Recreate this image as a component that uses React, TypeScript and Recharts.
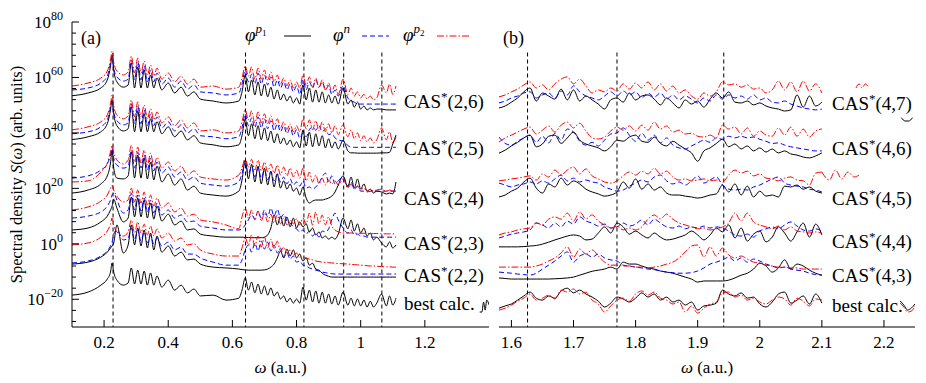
import React from "react";
import { LineChart, Line, XAxis, YAxis, ReferenceLine } from "recharts";

const FONT = '"Liberation Serif", "Times New Roman", Times, serif';
const BLACK = "#000000";
const BLUE = "#0000ff";
const RED = "#ff0000";

// ---- panel (a): omega grid (a.u.) and log10 S(omega) for each curve ----
const LEFT_W = [
  0.10, 0.15, 0.19, 0.21, 0.22, 0.225, 0.23, 0.24, 0.26, 0.275,
  0.285, 0.295, 0.305, 0.315, 0.325, 0.335, 0.345, 0.355, 0.365, 0.38,
  0.40, 0.42, 0.44, 0.46, 0.48, 0.50, 0.54, 0.58, 0.62, 0.63,
  0.64, 0.65, 0.66, 0.67, 0.68, 0.69, 0.70, 0.71, 0.72, 0.73,
  0.74, 0.75, 0.76, 0.77, 0.78, 0.79, 0.80, 0.81, 0.82, 0.83,
  0.84, 0.85, 0.86, 0.87, 0.88, 0.89, 0.90, 0.91, 0.92, 0.93,
  0.945, 0.96, 0.97, 0.98, 0.99, 1.00, 1.01, 1.02, 1.03, 1.04,
  1.05, 1.065, 1.08, 1.09, 1.10, 1.11,
];

const A26_P1 = [
  53.4, 54.4, 56.2, 59.1, 64.1, 68.1, 62.7, 58.4, 56.5, 57.3,
  65.2, 56.2, 63.8, 56.2, 62.7, 56.2, 60.9, 56.2, 59.8, 55.5,
  58.0, 54.4, 56.5, 53.3, 54.8, 52.2, 51.5, 50.8, 51.5, 54.8,
  60.9, 54.8, 59.1, 53.7, 58.4, 53.3, 57.6, 53.0, 56.5, 52.2,
  55.5, 51.9, 54.0, 51.5, 53.3, 50.8, 52.6, 50.4, 57.3, 51.9,
  56.2, 51.1, 55.5, 51.1, 54.8, 50.8, 53.7, 50.8, 53.3, 50.4,
  56.2, 50.4, 51.9, 49.3, 51.1, 48.6, 49.7, 48.3, 49.0, 48.3,
  48.6, 48.6, 48.3, 48.3, 48.3, 48.3,
];
const A26_N = [
  55.5, 56.2, 58.0, 60.5, 64.9, 67.4, 63.4, 60.2, 58.7, 59.4,
  66.3, 59.1, 65.6, 59.1, 64.1, 58.4, 62.7, 58.4, 61.6, 57.6,
  59.8, 56.5, 58.7, 55.8, 57.3, 54.8, 54.4, 53.7, 54.4, 57.6,
  62.7, 58.4, 61.2, 57.6, 61.6, 57.6, 60.9, 57.3, 60.2, 56.5,
  59.1, 56.2, 58.4, 55.5, 57.6, 54.8, 57.0, 53.9, 59.1, 55.5,
  58.4, 56.2, 59.1, 56.5, 58.4, 55.5, 57.0, 53.9, 55.5, 53.3,
  57.0, 52.6, 51.5, 51.1, 50.4, 50.4, 50.4, 50.4, 50.4, 50.4,
  50.4, 50.4, 50.4, 50.4, 50.4, 50.4,
];
const A26_P2 = [
  56.9, 58.0, 59.8, 62.3, 66.3, 69.5, 65.6, 62.3, 60.9, 62.0,
  67.7, 61.6, 67.0, 61.6, 65.9, 60.9, 64.5, 60.5, 63.4, 59.4,
  61.6, 58.4, 60.5, 57.6, 59.4, 56.5, 56.9, 55.8, 56.5, 59.8,
  64.1, 60.5, 63.8, 59.4, 63.4, 59.4, 62.7, 59.1, 62.0, 58.4,
  60.9, 57.6, 59.8, 57.0, 59.1, 56.2, 58.4, 56.2, 60.9, 57.0,
  60.2, 56.5, 59.8, 56.2, 59.1, 55.5, 58.0, 54.8, 57.3, 53.9,
  59.4, 53.9, 56.2, 53.3, 54.8, 52.6, 53.9, 52.2, 53.3, 51.9,
  52.6, 57.3, 54.4, 57.6, 53.9, 56.9,
];

const A25_P1 = [
  37.6, 38.6, 40.4, 43.3, 48.3, 52.0, 46.9, 42.6, 40.7, 41.5,
  49.4, 40.4, 48.0, 40.4, 46.9, 40.4, 45.1, 40.4, 44.0, 39.7,
  42.2, 38.6, 40.7, 37.5, 39.0, 36.4, 35.7, 35.0, 35.7, 39.0,
  45.1, 39.0, 43.3, 37.9, 42.6, 37.5, 41.8, 37.2, 40.7, 36.4,
  39.7, 36.1, 38.2, 35.7, 37.5, 35.0, 36.8, 34.6, 41.0, 35.3,
  40.3, 35.0, 39.7, 35.3, 39.0, 34.6, 37.9, 34.6, 36.8, 34.2,
  37.4, 33.5, 32.8, 32.8, 32.7, 32.7, 32.7, 32.7, 32.7, 32.7,
  32.7, 32.8, 32.8, 33.0, 36.0, 39.2,
];
const A25_N = [
  39.7, 40.4, 42.2, 44.7, 49.1, 51.6, 47.6, 44.4, 42.9, 43.6,
  50.5, 43.3, 49.8, 43.3, 48.3, 42.6, 46.9, 42.6, 45.8, 41.8,
  44.0, 40.7, 42.9, 40.0, 41.5, 39.0, 38.6, 37.9, 38.6, 41.8,
  46.9, 42.6, 45.4, 41.8, 45.8, 41.8, 45.1, 41.5, 44.4, 40.7,
  43.3, 40.4, 42.6, 39.7, 41.8, 39.0, 41.2, 38.1, 40.0, 38.6,
  41.2, 42.2, 41.0, 42.6, 40.4, 41.5, 39.4, 39.7, 38.2, 37.5,
  37.0, 35.5, 34.8, 34.8, 34.8, 34.8, 34.8, 34.8, 34.8, 34.8,
  34.8, 34.8, 34.8, 34.8, 34.8, 34.8,
];
const A25_P2 = [
  41.1, 42.2, 44.0, 46.5, 50.5, 53.7, 49.8, 46.5, 45.1, 46.2,
  51.9, 45.8, 51.2, 45.8, 50.1, 45.1, 48.7, 44.7, 47.6, 43.6,
  45.8, 42.6, 44.7, 41.8, 43.6, 40.7, 41.1, 40.0, 40.7, 44.0,
  48.3, 44.7, 48.0, 43.6, 47.6, 43.6, 46.9, 43.3, 46.2, 42.6,
  45.1, 41.8, 44.0, 41.2, 43.3, 40.4, 42.6, 40.4, 45.1, 41.5,
  44.7, 41.1, 44.4, 40.7, 44.0, 40.4, 43.3, 40.0, 42.6, 39.4,
  42.9, 38.6, 41.1, 37.9, 40.0, 37.2, 39.0, 36.8, 38.2, 36.4,
  37.5, 41.8, 37.5, 40.4, 36.4, 38.6,
];

const A24_P1 = [
  18.3, 19.4, 21.6, 24.5, 29.1, 33.8, 27.3, 23.7, 23.4, 24.5,
  33.1, 23.7, 32.0, 23.7, 30.9, 23.4, 29.5, 23.0, 28.0, 22.3,
  25.2, 21.2, 23.4, 19.4, 20.8, 18.3, 17.6, 17.2, 19.0, 23.0,
  30.2, 23.4, 28.7, 22.3, 28.0, 21.6, 27.3, 21.2, 26.2, 20.5,
  25.2, 20.1, 22.7, 19.7, 21.6, 19.0, 20.1, 17.6, 20.5, 16.5,
  14.7, 15.4, 15.8, 15.8, 15.8, 16.1, 16.5, 17.2, 18.7, 21.2,
  24.5, 20.5, 24.1, 20.1, 23.4, 19.7, 21.6, 19.0, 19.7, 18.3,
  19.0, 18.7, 18.0, 18.3, 18.0, 22.3,
];
const A24_N = [
  23.7, 24.5, 26.6, 28.8, 32.0, 34.6, 30.9, 28.4, 27.3, 28.0,
  33.8, 27.3, 33.1, 27.3, 32.0, 26.6, 30.9, 26.3, 29.5, 25.5,
  27.7, 24.1, 25.9, 23.0, 24.1, 21.9, 21.2, 20.8, 22.3, 25.5,
  29.1, 25.2, 28.0, 24.1, 27.3, 23.7, 26.6, 23.0, 25.9, 22.7,
  25.2, 22.3, 24.1, 21.6, 23.4, 21.2, 22.3, 20.8, 22.7, 20.1,
  20.5, 19.7, 20.5, 21.9, 24.1, 25.5, 22.3, 24.5, 21.6, 22.7,
  24.1, 20.8, 22.3, 19.7, 20.8, 19.0, 19.0, 18.7, 19.0, 18.7,
  19.0, 19.0, 19.0, 19.0, 19.0, 19.0,
];
const A24_P2 = [
  22.3, 22.7, 25.9, 29.1, 33.1, 35.6, 33.1, 30.2, 28.8, 30.2,
  35.6, 29.5, 34.9, 29.1, 33.8, 28.4, 32.7, 28.0, 31.2, 27.3,
  29.5, 26.3, 28.0, 24.8, 26.3, 24.1, 23.4, 23.0, 24.8, 27.3,
  30.9, 27.7, 30.5, 26.6, 30.2, 26.3, 29.5, 25.9, 28.8, 25.5,
  28.4, 24.8, 27.7, 24.5, 27.3, 24.1, 26.6, 23.7, 27.3, 22.7,
  25.9, 22.3, 24.8, 21.6, 23.7, 21.2, 23.0, 21.6, 22.7, 21.2,
  23.4, 20.1, 21.6, 19.7, 20.8, 19.4, 20.1, 19.0, 19.7, 19.0,
  19.4, 19.7, 19.0, 19.4, 19.0, 19.0,
];

const A23_P1 = [
  5.0, 5.7, 7.9, 10.0, 12.2, 13.6, 16.1, 12.9, 7.9, 9.3,
  16.9, 9.7, 16.5, 9.7, 15.8, 9.3, 14.7, 8.9, 13.6, 8.2,
  10.7, 6.8, 8.2, 5.0, 5.4, 3.5, 2.8, 2.4, 2.4, 2.4,
  2.3, 2.3, 2.2, 2.2, 2.2, 2.2, 2.4, 3.2, 5.7, 10.4,
  6.8, 10.0, 6.4, 9.7, 6.1, 9.3, 5.7, 7.9, 6.1, 7.2,
  4.3, 5.7, 3.2, 4.3, 2.1, 2.8, 1.7, 2.4, 1.7, 3.5,
  9.3, 5.4, 8.6, 4.6, 7.2, 3.9, 5.7, 2.8, 3.9, 1.4,
  2.4, 0.3, -1.1, 0.7, -1.5, -0.4,
];
const A23_N = [
  9.3, 10.0, 11.5, 13.6, 15.8, 17.6, 18.3, 15.8, 11.1, 12.2,
  18.3, 12.2, 17.6, 11.8, 16.5, 11.5, 15.8, 11.1, 14.7, 10.4,
  12.2, 9.3, 10.4, 7.9, 8.2, 6.4, 5.7, 5.0, 5.0, 5.4,
  6.8, 8.6, 10.4, 9.0, 11.8, 9.3, 12.2, 9.7, 12.9, 10.0,
  12.5, 9.3, 10.7, 8.2, 7.5, 6.1, 5.4, 4.3, 5.0, 3.5,
  4.6, 2.8, 3.9, 2.4, 4.6, 4.3, 5.4, 8.6, 11.1, 8.6,
  5.7, 3.9, 5.0, 3.2, 3.5, 2.8, 2.8, 2.4, 2.4, 2.4,
  2.4, 2.4, 2.4, 2.4, 2.4, 2.4,
];
const A23_P2 = [
  12.2, 13.3, 15.4, 17.6, 20.1, 21.2, 19.4, 17.2, 15.1, 15.8,
  20.1, 15.1, 19.4, 14.7, 18.7, 14.0, 17.6, 13.6, 16.5, 12.9,
  14.7, 11.5, 12.9, 10.0, 10.7, 8.6, 7.9, 6.8, 5.4, 9.7,
  12.9, 9.3, 12.2, 8.6, 11.8, 8.2, 11.1, 7.9, 10.7, 7.5,
  10.4, 7.2, 9.3, 6.8, 8.6, 7.2, 9.0, 6.8, 9.3, 7.2,
  11.1, 6.8, 11.5, 7.2, 10.4, 6.8, 9.7, 6.4, 5.0, 4.3,
  3.9, 3.9, 3.9, 3.9, 3.8, 3.8, 3.8, 3.8, 3.7, 3.7,
  3.7, 3.6, 3.6, 3.6, 3.6, 3.5,
];

const A22_P1 = [
  -7.3, -6.6, -4.8, -3.0, -1.5, -0.8, 0.3, 6.8, -3.3, -0.4,
  6.8, -0.4, 5.7, -0.8, 5.0, -1.5, 3.9, -2.2, 2.8, -3.0,
  -0.8, -4.4, -3.0, -5.8, -5.5, -7.3, -8.4, -8.7, -9.1, -9.3,
  -9.4, -9.5, -9.5, -9.5, -9.5, -9.5, -9.4, -9.1, -8.4, -7.3,
  -5.1, -2.6, -5.1, -1.9, -4.4, -2.2, -5.1, -3.7, -6.2, -5.1,
  -7.7, -7.0, -9.1, -9.5, -10.6, -11.3, -11.7, -12.0, -12.0, -12.0,
  -12.0, -12.0, -12.0, -12.0, -12.0, -12.0, -12.0, -12.0, -12.0, -12.0,
  -12.0, -12.0, -12.0, -12.0, -12.0, -12.0,
];
const A22_N = [
  -6.9, -6.2, -4.4, -2.6, -0.8, 0.6, 3.5, 5.0, 1.4, 2.1,
  5.7, 1.4, 5.0, 1.0, 4.3, 0.3, 3.2, -0.1, 2.1, -0.8,
  0.6, -2.2, -1.2, -3.7, -3.7, -5.1, -6.6, -7.7, -7.7, -5.8,
  -2.2, -0.4, -3.0, 0.3, -2.6, 1.0, -1.9, 0.6, -2.6, -0.4,
  -3.3, -1.5, -4.8, -3.3, -5.5, -4.4, -6.6, -6.2, -7.7, -8.0,
  -8.7, -9.1, -9.5, -9.8, -10.2, -10.4, -10.6, -10.8, -10.9, -10.9,
  -10.9, -10.9, -10.9, -10.9, -10.9, -10.9, -10.9, -10.9, -10.9, -10.9,
  -10.9, -10.9, -10.9, -10.9, -10.9, -10.9,
];
const A22_P2 = [
  -0.4, 0.3, 2.4, 4.6, 7.1, 9.3, 6.8, 4.3, 2.8, 4.3,
  8.6, 3.9, 7.9, 3.9, 7.1, 3.2, 6.4, 2.8, 5.4, 2.1,
  3.9, 1.0, 2.1, -0.4, 0.0, -2.2, -3.7, -4.4, -4.4, -1.5,
  2.1, -0.4, 3.2, -0.8, 2.8, -1.2, 2.4, -1.5, 1.7, -1.9,
  1.0, -2.6, -1.2, -3.3, -2.2, -4.1, -3.3, -4.8, -4.8, -5.1,
  -5.5, -5.8, -6.2, -6.4, -6.6, -6.7, -6.8, -6.9, -7.0, -7.1,
  -7.2, -7.3, -7.4, -7.5, -7.6, -7.7, -7.8, -7.9, -8.0, -8.0,
  -8.1, -8.2, -8.3, -8.3, -8.4, -8.4,
];

const BEST_A_P1 = [
  -18.5, -17.4, -14.9, -12.7, -10.2, -6.9, -10.2, -13.1, -14.9, -14.1,
  -8.7, -14.5, -9.5, -14.5, -9.8, -14.9, -10.5, -14.9, -11.6, -15.6,
  -13.1, -16.7, -14.9, -17.7, -16.3, -18.8, -18.5, -20.3, -19.6, -16.7,
  -12.3, -16.7, -13.8, -17.7, -14.5, -18.1, -15.2, -18.5, -15.9, -18.8,
  -17.4, -19.9, -18.8, -21.0, -19.6, -21.4, -19.9, -21.4, -15.6, -20.3,
  -16.7, -21.0, -17.0, -21.4, -17.4, -21.4, -18.1, -21.7, -18.8, -22.1,
  -17.4, -22.1, -19.6, -22.4, -19.9, -22.4, -20.3, -22.8, -20.7, -22.8,
  -21.4, -18.1, -22.4, -18.8, -22.1, -19.6,
];
// piece of the best-calc curve peeking out at the right edge of panel (a)
const TAIL_A_W = [1.371, 1.378, 1.383, 1.388, 1.393, 1.4];
const TAIL_A_V = [-24.6, -24.6, -21.0, -23.9, -20.3, -22.0];

// ---- panel (b) ----
const RIGHT_W = [
  1.58, 1.59, 1.60, 1.61, 1.62, 1.63, 1.64, 1.65, 1.66, 1.67,
  1.68, 1.69, 1.70, 1.71, 1.72, 1.73, 1.74, 1.75, 1.76, 1.77,
  1.78, 1.79, 1.80, 1.81, 1.82, 1.83, 1.84, 1.85, 1.86, 1.87,
  1.88, 1.89, 1.90, 1.91, 1.92, 1.93, 1.94, 1.95, 1.96, 1.97,
  1.98, 1.99, 2.00, 2.01, 2.02, 2.03, 2.04, 2.05, 2.06, 2.07,
  2.08, 2.09, 2.10,
];

const B47_P1 = [
  49.0, 49.7, 51.1, 52.6, 54.8, 56.2, 51.5, 54.4, 53.3, 52.2,
  55.8, 51.9, 55.5, 51.5, 53.3, 51.9, 50.4, 48.6, 51.9, 52.6,
  51.1, 54.4, 51.9, 53.3, 53.7, 52.2, 50.1, 52.6, 50.8, 49.0,
  51.9, 50.4, 51.5, 49.3, 52.2, 54.4, 52.6, 54.8, 51.1, 50.8,
  51.5, 50.1, 50.8, 49.7, 49.0, 48.6, 47.9, 48.3, 53.7, 49.3,
  53.3, 49.7, 51.1,
];
const B47_N = [
  50.8, 51.5, 52.6, 53.3, 54.4, 54.8, 52.6, 53.7, 54.4, 52.6,
  55.1, 53.7, 57.0, 54.8, 53.3, 52.6, 51.9, 53.3, 54.8, 53.3,
  55.1, 53.7, 54.8, 52.6, 54.4, 52.9, 54.4, 52.2, 53.7, 51.9,
  53.3, 52.2, 50.8, 52.6, 51.5, 53.7, 52.2, 53.7, 52.6, 53.3,
  52.2, 53.7, 51.9, 52.6, 51.1, 50.8, 51.5, 50.4, 49.7, 49.0,
  48.6, 48.3, 48.6,
];
const B47_P2 = [
  53.0, 53.7, 54.8, 55.8, 57.3, 58.4, 56.2, 57.3, 55.5, 57.7,
  59.4, 60.2, 57.7, 59.4, 56.9, 54.4, 55.5, 54.8, 56.2, 55.1,
  57.7, 55.8, 58.0, 56.2, 58.4, 55.5, 57.7, 55.1, 56.9, 54.4,
  55.5, 53.3, 52.2, 54.4, 53.3, 54.8, 58.4, 57.3, 57.7, 56.5,
  57.3, 55.8, 56.2, 54.4, 55.5, 58.7, 55.5, 58.4, 54.8, 58.7,
  55.1, 57.7, 54.4,
];

const B46_P1 = [
  32.7, 33.8, 35.3, 36.6, 38.2, 39.2, 35.0, 36.0, 38.8, 39.2,
  36.2, 38.2, 40.3, 37.4, 36.0, 35.3, 34.6, 33.5, 35.0, 37.4,
  37.0, 38.5, 39.2, 37.0, 36.6, 38.5, 36.2, 35.3, 37.0, 35.6,
  34.2, 32.8, 29.8, 33.5, 34.6, 36.2, 37.7, 35.0, 36.0, 34.2,
  35.3, 33.5, 34.6, 33.1, 34.2, 32.8, 33.5, 32.4, 32.0, 31.3,
  31.0, 31.7, 32.8,
];
const B46_N = [
  38.5, 36.2, 35.6, 37.0, 38.2, 39.2, 36.6, 38.8, 36.4, 39.9,
  37.4, 41.4, 40.3, 37.0, 35.6, 36.6, 35.3, 37.4, 39.6, 40.0,
  41.8, 39.2, 37.0, 39.9, 37.4, 39.2, 36.4, 38.2, 35.6, 34.6,
  34.2, 35.3, 36.4, 37.4, 36.6, 38.2, 37.7, 38.8, 38.2, 38.8,
  38.2, 38.5, 37.7, 37.0, 36.2, 36.4, 35.6, 35.0, 34.6, 34.2,
  33.8, 33.5, 33.5,
];
const B46_P2 = [
  36.7, 38.2, 39.2, 40.3, 41.4, 42.1, 39.6, 41.0, 42.5, 40.3,
  42.8, 43.9, 41.8, 43.5, 40.7, 38.2, 37.8, 38.5, 40.7, 42.1,
  41.0, 42.5, 40.7, 42.8, 41.0, 43.9, 41.4, 42.5, 40.3, 41.0,
  39.6, 39.9, 38.8, 38.5, 39.2, 38.2, 42.8, 41.4, 42.1, 39.6,
  41.8, 38.8, 40.7, 39.2, 38.8, 41.8, 39.2, 42.1, 38.8, 41.4,
  38.5, 40.7, 41.4,
];

const B45_P1 = [
  16.9, 17.6, 19.0, 20.1, 22.3, 23.7, 20.1, 18.3, 21.6, 20.5,
  23.7, 21.2, 22.7, 21.6, 19.7, 18.7, 18.0, 17.2, 17.6, 18.7,
  22.3, 20.1, 23.4, 19.7, 21.6, 19.4, 20.5, 18.3, 17.6, 17.6,
  17.2, 16.9, 16.5, 16.9, 17.6, 18.0, 21.2, 18.7, 21.6, 17.6,
  20.8, 16.9, 19.0, 17.2, 17.6, 16.9, 20.8, 20.5, 21.2, 19.7,
  20.5, 19.0, 18.3,
];
const B45_N = [
  21.9, 21.2, 20.5, 21.2, 21.6, 22.3, 21.6, 22.7, 21.9, 23.4,
  24.8, 22.7, 23.7, 22.3, 23.0, 22.3, 21.9, 20.5, 19.7, 19.0,
  19.4, 20.8, 21.9, 23.0, 22.3, 24.1, 24.8, 22.7, 21.6, 22.3,
  21.2, 22.7, 24.5, 21.9, 23.0, 24.1, 21.2, 19.7, 19.4, 19.7,
  19.4, 20.5, 21.2, 22.3, 23.4, 24.1, 21.9, 21.2, 20.8, 20.5,
  19.7, 19.4, 18.7,
];
const B45_P2 = [
  22.7, 23.0, 23.4, 23.7, 24.1, 24.5, 23.0, 25.2, 24.1, 26.6,
  24.8, 26.6, 27.7, 25.2, 27.0, 24.5, 23.4, 22.3, 21.9, 22.7,
  24.5, 25.9, 24.8, 26.2, 25.2, 27.3, 25.2, 26.2, 24.1, 23.0,
  23.4, 22.7, 23.0, 23.4, 22.7, 23.0, 22.3, 24.8, 26.6, 25.5,
  26.2, 24.5, 25.2, 23.7, 23.4, 22.7, 23.7, 24.1, 23.0, 22.7,
  21.2, 25.5, 25.9,
];

const B44_P1 = [
  -1.1, -1.1, -1.1, -1.1, -1.0, -0.8, -0.6, -0.1, 0.6, 1.4,
  2.1, 2.8, 3.2, 2.8, 1.4, 1.7, 3.9, 6.1, 3.9, 7.5,
  6.1, 3.5, 4.6, 3.2, 2.1, 3.9, 2.4, 1.4, 1.7, 2.4,
  3.2, 4.6, 3.2, 1.4, 3.2, 5.7, 4.3, 6.8, 2.1, 5.7,
  1.0, 3.5, 4.6, 0.7, 2.4, 6.1, 3.9, 1.0, 4.3, 7.5,
  2.4, 7.1, 3.2,
];
const B44_N = [
  2.1, 2.8, 3.5, 3.9, 4.3, 5.0, 7.5, 6.8, 5.7, 7.5,
  6.1, 8.2, 7.1, 9.7, 8.2, 7.5, 6.4, 7.1, 5.7, 6.1,
  7.5, 6.4, 7.1, 8.6, 6.8, 8.9, 7.5, 6.1, 5.7, 6.4,
  5.4, 6.1, 5.7, 6.4, 5.7, 6.1, 5.7, 4.6, 3.2, 2.8,
  3.5, 2.4, 4.6, 5.4, 6.1, 5.4, 6.8, 7.9, 6.4, 5.0,
  4.6, 5.4, 4.6,
];
const B44_P2 = [
  3.2, 3.9, 4.3, 5.0, 5.4, 5.7, 7.5, 6.8, 8.9, 9.7,
  8.9, 11.1, 8.2, 11.5, 9.0, 10.4, 8.2, 6.8, 5.7, 6.4,
  5.0, 5.7, 5.0, 6.1, 8.9, 10.4, 9.0, 10.7, 8.9, 7.5,
  6.8, 6.1, 5.4, 5.7, 5.0, 5.4, 6.1, 7.5, 11.1, 8.2,
  11.1, 7.9, 6.8, 6.1, 5.4, 6.4, 5.0, 6.1, 4.6, 4.3,
  3.9, 4.3, 3.9,
];

const B43_P1 = [
  -12.3, -12.5, -12.7, -12.7, -12.7, -12.7, -12.7, -12.7, -12.7, -12.6,
  -12.5, -12.3, -12.0, -11.3, -10.6, -9.9, -9.5, -9.1, -8.4, -9.1,
  -6.6, -7.3, -7.3, -8.0, -8.7, -9.1, -9.8, -10.2, -10.6, -11.3,
  -12.0, -12.7, -13.8, -13.4, -13.4, -13.4, -13.4, -13.1, -12.3, -11.3,
  -10.6, -9.1, -7.0, -8.0, -10.2, -8.7, -5.8, -9.1, -7.3, -8.0,
  -9.5, -10.6, -11.3,
];
const B43_N = [
  -10.2, -10.4, -10.6, -10.9, -11.1, -11.3, -10.6, -9.1, -7.7, -6.2,
  -4.4, -2.9, -6.6, -4.4, -3.7, -4.8, -3.7, -5.1, -5.8, -6.2,
  -7.7, -8.0, -8.4, -8.7, -9.1, -9.3, -9.8, -10.2, -10.4, -10.6,
  -10.6, -10.4, -9.8, -8.7, -7.3, -6.6, -5.8, -4.8, -6.2, -5.1,
  -6.6, -5.5, -6.2, -7.3, -8.0, -8.7, -8.4, -9.1, -9.5, -9.8,
  -10.6, -11.1, -11.3,
];
const B43_P2 = [
  -8.4, -8.4, -8.4, -8.4, -8.4, -8.4, -8.0, -7.3, -6.2, -5.1,
  -3.3, -1.1, -4.8, -1.9, -3.7, -2.2, -4.4, -6.6, -7.7, -7.7,
  -8.0, -8.0, -8.4, -8.4, -8.7, -8.4, -8.0, -7.3, -6.6, -5.1,
  -2.9, -0.8, -0.4, -4.8, -1.1, -4.4, -1.5, -4.0, -5.1, -4.4,
  -5.5, -6.6, -6.9, -7.7, -8.0, -8.4, -8.4, -8.7, -8.7, -9.1,
  -9.1, -9.1, -9.1,
];

const BEST_B_P1 = [
  -23.2, -22.4, -21.7, -20.3, -18.8, -17.4, -19.6, -20.3, -18.8, -19.6,
  -17.0, -16.0, -17.7, -16.7, -18.1, -19.2, -20.7, -22.8, -21.4, -19.2,
  -19.9, -21.0, -19.6, -17.7, -19.2, -18.1, -20.3, -19.2, -21.0, -20.3,
  -22.1, -21.0, -23.9, -22.4, -22.1, -21.4, -16.7, -18.1, -18.8, -17.7,
  -19.6, -19.2, -21.7, -22.8, -21.0, -18.1, -17.4, -21.4, -20.3, -18.8,
  -21.7, -18.1, -21.4,
];
const BEST_B_P2 = [
  -23.9, -23.2, -22.1, -20.7, -19.6, -18.1, -20.3, -19.6, -18.5, -19.9,
  -16.7, -17.4, -16.3, -18.1, -17.4, -20.3, -21.7, -24.6, -22.4, -20.3,
  -19.6, -20.7, -18.1, -17.0, -18.5, -17.4, -19.6, -20.3, -21.7, -21.0,
  -24.6, -22.4, -25.0, -23.2, -21.7, -21.0, -17.7, -17.4, -19.2, -18.5,
  -20.3, -19.6, -21.0, -21.7, -20.3, -19.2, -19.9, -22.1, -19.6, -20.7,
  -22.4, -19.9, -20.3,
];

// small pieces of curves visible beside the labels in panel (b)
const TAIL_B45_W = [2.10, 2.112, 2.122, 2.132, 2.142, 2.152, 2.16];
const TAIL_B45_P2 = [25.9, 23.0, 26.6, 23.4, 25.9, 24.1, 24.8];
const TAIL_B47_W = [2.155, 2.16, 2.165, 2.17, 2.175];
const TAIL_B47_P2 = [56.2, 57.7, 56.2, 57.7, 56.5];
const TAIL_B47E_W = [2.228, 2.234, 2.24, 2.246];
const TAIL_B47E_P1 = [45.5, 44.3, 44.3, 45.5];
const TAIL_BEST_W = [2.226, 2.232, 2.238, 2.244, 2.25];
const TAIL_BEST_P1 = [-20.6, -22.1, -23.9, -23.2, -21.7];
const TAIL_BEST_P2 = [-21.4, -22.8, -24.6, -24.3, -22.4];

// axes
const LEFT_X_TICKS = [0.2, 0.4, 0.6, 0.8, 1, 1.2];
const RIGHT_X_TICKS = [1.6, 1.7, 1.8, 1.9, 2, 2.1, 2.2];
const Y_TICKS = [
  -28, -24, -20, -16, -12, -8, -4, 0, 4, 8, 12, 16, 20, 24,
  28, 32, 36, 40, 44, 48, 52, 56, 60, 64, 68, 72, 76, 80,
];
const LEFT_MARKS = [0.228, 0.641, 0.823, 0.947, 1.066];
const RIGHT_MARKS = [1.626, 1.77, 1.942];

const SERIES = [
  { key: "p1", stroke: BLACK, dash: undefined as string | undefined },
  { key: "n", stroke: BLUE, dash: "5 3" },
  { key: "p2", stroke: RED, dash: "7 2 1.5 2" },
];

type Group = { id: string; label: string; p1: number[]; n?: number[]; p2?: number[] };

const LEFT_GROUPS: Group[] = [
  { id: "a26", label: "CAS*(2,6)", p1: A26_P1, n: A26_N, p2: A26_P2 },
  { id: "a25", label: "CAS*(2,5)", p1: A25_P1, n: A25_N, p2: A25_P2 },
  { id: "a24", label: "CAS*(2,4)", p1: A24_P1, n: A24_N, p2: A24_P2 },
  { id: "a23", label: "CAS*(2,3)", p1: A23_P1, n: A23_N, p2: A23_P2 },
  { id: "a22", label: "CAS*(2,2)", p1: A22_P1, n: A22_N, p2: A22_P2 },
  { id: "abest", label: "best calc.", p1: BEST_A_P1 },
];
const RIGHT_GROUPS: Group[] = [
  { id: "b47", label: "CAS*(4,7)", p1: B47_P1, n: B47_N, p2: B47_P2 },
  { id: "b46", label: "CAS*(4,6)", p1: B46_P1, n: B46_N, p2: B46_P2 },
  { id: "b45", label: "CAS*(4,5)", p1: B45_P1, n: B45_N, p2: B45_P2 },
  { id: "b44", label: "CAS*(4,4)", p1: B44_P1, n: B44_N, p2: B44_P2 },
  { id: "b43", label: "CAS*(4,3)", p1: B43_P1, n: B43_N, p2: B43_P2 },
  { id: "bbest", label: "best calc.", p1: BEST_B_P1, p2: BEST_B_P2 },
];

const LEFT_LABEL_Y = [108, 155, 205, 250, 282, 310];
const RIGHT_LABEL_Y = [110, 155, 205, 248, 282, 312];

function buildRows(ws: number[], groups: Group[]) {
  return ws.map((w, i) => {
    const row: Record<string, number> = { w };
    groups.forEach((g) => {
      SERIES.forEach((s) => {
        const arr = (g as any)[s.key] as number[] | undefined;
        if (arr) row[`${g.id}_${s.key}`] = arr[i];
      });
    });
    return row;
  });
}

const pairs = (ws: number[], vs: number[]) => ws.map((w, i) => ({ w, v: vs[i] }));

// ticks point inwards, like the original plot
const BottomTick = (props: any) => {
  const { x, y, payload } = props;
  return (
    <g>
      <line x1={x} y1={y} x2={x} y2={y - 7} stroke={BLACK} />
      <text x={x} y={y + 21} textAnchor="middle" fontFamily={FONT} fontSize={17} fill={BLACK}>
        {payload.value}
      </text>
    </g>
  );
};
const TopTick = (props: any) => {
  const { x, y } = props;
  return <line x1={x} y1={y} x2={x} y2={y + 7} stroke={BLACK} />;
};
const makeLeftTick = (labels: boolean) => (props: any) => {
  const { x, y, payload } = props;
  const v = payload.value as number;
  const major = v % 20 === 0;
  return (
    <g>
      <line x1={x} y1={y} x2={x + (major ? 7 : 4)} y2={y} stroke={BLACK} />
      {labels && major && (
        <text x={x - 9} y={y + 6} textAnchor="end" fontFamily={FONT} fontSize={17} fill={BLACK}>
          10
          <tspan dy={-8} fontSize={12}>
            {v < 0 ? `\u2212${-v}` : `${v}`}
          </tspan>
        </text>
      )}
    </g>
  );
};
const RightTick = (props: any) => {
  const { x, y, payload } = props;
  const major = (payload.value as number) % 20 === 0;
  return <line x1={x} y1={y} x2={x - (major ? 7 : 4)} y2={y} stroke={BLACK} />;
};

type Tail = { w: number[]; v: number[]; stroke: string; dash?: string };

type PanelProps = {
  left: number;
  width: number;
  margin: { top: number; right: number; bottom: number; left: number };
  yWidth: number;
  yLabels: boolean;
  ws: number[];
  groups: Group[];
  domain: [number, number];
  ticks: number[];
  marks: number[];
  tails: Tail[];
};

function Panel(p: PanelProps) {
  const rows = buildRows(p.ws, p.groups);
  const lines: React.ReactNode[] = [];
  p.groups.forEach((g) => {
    SERIES.forEach((s) => {
      if (!(g as any)[s.key]) return;
      lines.push(
        <Line
          key={`${g.id}_${s.key}`}
          type="monotone"
          dataKey={`${g.id}_${s.key}`}
          stroke={s.stroke}
          strokeWidth={1}
          strokeDasharray={s.dash}
          dot={false}
          activeDot={false}
          isAnimationActive={false}
        />
      );
    });
  });
  p.tails.forEach((t, i) => {
    lines.push(
      <Line
        key={`tail${i}`}
        data={pairs(t.w, t.v)}
        type="monotone"
        dataKey="v"
        stroke={t.stroke}
        strokeWidth={1}
        strokeDasharray={t.dash}
        dot={false}
        activeDot={false}
        isAnimationActive={false}
      />
    );
  });
  return (
    <div style={{ position: "absolute", left: p.left, top: 0 }}>
      <LineChart width={p.width} height={383} data={rows} margin={p.margin}>
        <XAxis
          dataKey="w"
          type="number"
          domain={p.domain}
          ticks={p.ticks}
          allowDataOverflow
          interval={0}
          height={40}
          tickSize={0}
          tickMargin={0}
          tickLine={false}
          axisLine={{ stroke: BLACK }}
          tick={BottomTick}
        />
        <XAxis
          xAxisId="top"
          orientation="top"
          dataKey="w"
          type="number"
          domain={p.domain}
          ticks={p.ticks}
          allowDataOverflow
          interval={0}
          height={0}
          tickSize={0}
          tickMargin={0}
          tickLine={false}
          axisLine={{ stroke: BLACK }}
          tick={TopTick}
        />
        <YAxis
          type="number"
          domain={[-30, 80]}
          ticks={Y_TICKS}
          allowDataOverflow
          interval={0}
          width={p.yWidth}
          tickSize={0}
          tickMargin={0}
          tickLine={false}
          axisLine={{ stroke: BLACK }}
          tick={makeLeftTick(p.yLabels)}
        />
        <YAxis
          yAxisId="right"
          orientation="right"
          type="number"
          domain={[-30, 80]}
          ticks={Y_TICKS}
          allowDataOverflow
          interval={0}
          width={0}
          tickSize={0}
          tickMargin={0}
          tickLine={false}
          axisLine={{ stroke: BLACK }}
          tick={RightTick}
        />
        {p.marks.map((m) => (
          <ReferenceLine
            key={m}
            segment={[
              { x: m, y: 69 },
              { x: m, y: -30 },
            ]}
            stroke={BLACK}
            strokeDasharray="4 3"
          />
        ))}
        {lines}
      </LineChart>
    </div>
  );
}

const CasLabel = ({ x, y, text }: { x: number; y: number; text: string }) => {
  const parts = text.split("*");
  return (
    <text x={x} y={y} fontFamily={FONT} fontSize={19} fill={BLACK}>
      {parts[0]}
      {parts.length > 1 && (
        <>
          <tspan dy={-7} fontSize={13}>*</tspan>
          <tspan dy={7}>{parts[1]}</tspan>
        </>
      )}
    </text>
  );
};

export default function App() {
  return (
    <div style={{ position: "absolute", left: 0, top: 0, width: 926, height: 383, background: "#fff" }}>
      <Panel
        left={0}
        width={495}
        margin={{ top: 22, right: 6, bottom: 16, left: 0 }}
        yWidth={72}
        yLabels
        ws={LEFT_W}
        groups={LEFT_GROUPS}
        domain={[0.1, 1.4]}
        ticks={LEFT_X_TICKS}
        marks={LEFT_MARKS}
        tails={[{ w: TAIL_A_W, v: TAIL_A_V, stroke: BLACK }]}
      />
      <Panel
        left={495}
        width={431}
        margin={{ top: 22, right: 11, bottom: 16, left: 4 }}
        yWidth={0}
        yLabels={false}
        ws={RIGHT_W}
        groups={RIGHT_GROUPS}
        domain={[1.58, 2.25]}
        ticks={RIGHT_X_TICKS}
        marks={RIGHT_MARKS}
        tails={[
          { w: TAIL_B45_W, v: TAIL_B45_P2, stroke: RED, dash: "7 2 1.5 2" },
          { w: TAIL_B47_W, v: TAIL_B47_P2, stroke: RED, dash: "7 2 1.5 2" },
          { w: TAIL_B47E_W, v: TAIL_B47E_P1, stroke: BLACK },
          { w: TAIL_BEST_W, v: TAIL_BEST_P1, stroke: BLACK },
          { w: TAIL_BEST_W, v: TAIL_BEST_P2, stroke: RED, dash: "7 2 1.5 2" },
        ]}
      />
      <svg
        width={926}
        height={383}
        style={{ position: "absolute", left: 0, top: 0, pointerEvents: "none" }}
        fontFamily={FONT}
      >
        <text transform="rotate(-90 22 174.5)" x={22} y={174.5} textAnchor="middle" fontSize={16.5} fill={BLACK}>
          Spectral density <tspan fontStyle="italic">S</tspan>(<tspan fontStyle="italic">ω</tspan>) (arb. units)
        </text>
        <text x={280.5} y={373} textAnchor="middle" fontSize={17} fill={BLACK}>
          <tspan fontStyle="italic">ω</tspan> (a.u.)
        </text>
        <text x={707} y={373} textAnchor="middle" fontSize={17} fill={BLACK}>
          <tspan fontStyle="italic">ω</tspan> (a.u.)
        </text>
        <text x={81} y={44} fontSize={18} fill={BLACK}>(a)</text>
        <text x={503} y={44} fontSize={18} fill={BLACK}>(b)</text>

        <text x={245} y={41} fontSize={19} fontStyle="italic" fill={BLACK}>
          φ<tspan dy={-8} fontSize={13}>p</tspan>
          <tspan dy={3} fontSize={9} fontStyle="normal">1</tspan>
        </text>
        <line x1={284} x2={311} y1={36} y2={36} stroke={BLACK} />
        <text x={333} y={41} fontSize={19} fontStyle="italic" fill={BLACK}>
          φ<tspan dy={-8} fontSize={13}>n</tspan>
        </text>
        <line x1={362} x2={389} y1={36} y2={36} stroke={BLUE} strokeDasharray="5 3" />
        <text x={403} y={41} fontSize={19} fontStyle="italic" fill={BLACK}>
          φ<tspan dy={-8} fontSize={13}>p</tspan>
          <tspan dy={3} fontSize={9} fontStyle="normal">2</tspan>
        </text>
        <line x1={437} x2={469} y1={36} y2={36} stroke={RED} strokeDasharray="7 2 1.5 2" />

        {LEFT_GROUPS.map((g, i) => (
          <CasLabel key={g.id} x={404} y={LEFT_LABEL_Y[i]} text={g.label} />
        ))}
        {RIGHT_GROUPS.map((g, i) => (
          <CasLabel key={g.id} x={832} y={RIGHT_LABEL_Y[i]} text={g.label} />
        ))}
      </svg>
    </div>
  );
}
